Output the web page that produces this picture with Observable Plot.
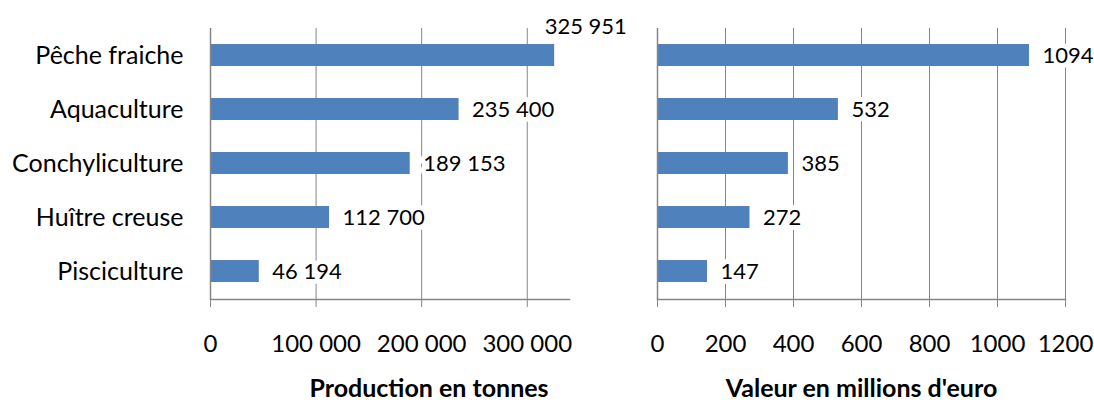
<!DOCTYPE html>
<html>
<head>
<meta charset="utf-8">
<script src="https://cdn.jsdelivr.net/npm/d3@7"></script>
<script src="https://cdn.jsdelivr.net/npm/@observablehq/plot@0.6"></script>
<style>
  html, body { margin: 0; padding: 0; background: white; }
  #wrap { display: flex; flex-direction: row; width: 1094px; height: 403px; overflow: hidden; }
  #wrap svg { overflow: visible; }
</style>
</head>
<body>
<div id="wrap"></div>
<script>
const categories = ["Pêche fraiche", "Aquaculture", "Conchyliculture", "Huître creuse", "Pisciculture"];
const production = [325951, 235400, 189153, 112700, 46194];
const valeur = [1094, 532, 385, 272, 147];
const prodTicks = [0, 100000, 200000, 300000];
const valTicks = [0, 200, 400, 600, 800, 1000, 1200];
const prodTitle = "Production en tonnes";
const valTitle = "Valeur en millions d'euro";

const fr = d3.formatLocale({decimal: ",", thousands: " ", grouping: [3], currency: ["", " €"]});
const fmtSpace = fr.format(",d");
const fmtPlain = d3.format("d");

const prodRows = categories.map((c, i) => ({c, v: production[i]}));
const valRows = categories.map((c, i) => ({c, v: valeur[i]}));

const FONT = "Lato, 'Open Sans', sans-serif";
const GRID = "#868686";
const BAR = "#4f81bd";

function panel({rows, ticks, domain, fmt, title, width, marginLeft, marginRight, showY, titleDx, outside}) {
  const inside = rows.filter(d => !outside.includes(d.c));
  const over = rows.filter(d => outside.includes(d.c));
  return Plot.plot({
    width, height: 403,
    marginLeft, marginRight, marginTop: 28, marginBottom: 104,
    style: {fontFamily: FONT, fontSize: "24px", color: "black", background: "transparent", overflow: "visible"},
    x: {domain, label: null},
    y: {domain: categories, paddingInner: 0.59, paddingOuter: 0.295, label: null},
    marks: [
      Plot.gridX(ticks, {stroke: GRID, strokeOpacity: 1, strokeWidth: 1}),
      Plot.barX(rows, {x: "v", y: "c", fill: BAR}),
      Plot.text(inside, {x: "v", y: "c", text: d => fmt(d.v), dx: 13, textAnchor: "start",
        fill: "black", stroke: "white", strokeWidth: 10, fontSize: 22}),
      Plot.text(over, {x: "v", y: "c", text: d => fmt(d.v), dx: -10, dy: -29, textAnchor: "start",
        fill: "black", stroke: "white", strokeWidth: 10, fontSize: 22}),
      Plot.ruleX([0], {stroke: GRID, strokeWidth: 1.5}),
      Plot.frame({anchor: "bottom", stroke: GRID, strokeWidth: 1.5}),
      Plot.axisX(ticks, {tickSize: 8, tickPadding: 27, tickFormat: fmt, stroke: GRID, fill: "black", label: null, fontSize: 24}),
      showY ? Plot.axisY({tickSize: 0, tickPadding: 27, label: null, fontSize: 25, fill: "black"}) : Plot.axisY({ticks: []}),
      Plot.text([title], {text: d => d, frameAnchor: "bottom", dy: 97, dx: titleDx, lineAnchor: "bottom",
        fontWeight: "bold", fontSize: 25, fill: "black"})
    ]
  });
}

const left = panel({rows: prodRows, ticks: prodTicks, domain: [0, 340000], fmt: fmtSpace, title: prodTitle,
  width: 640, marginLeft: 210, marginRight: 71, showY: true, titleDx: 39, outside: ["Pêche fraiche"]});
const right = panel({rows: valRows, ticks: valTicks, domain: [0, 1200], fmt: fmtPlain, title: valTitle,
  width: 454, marginLeft: 17, marginRight: 29, showY: false, titleDx: 0, outside: []});

document.getElementById("wrap").append(left, right);
</script>
</body>
</html>
